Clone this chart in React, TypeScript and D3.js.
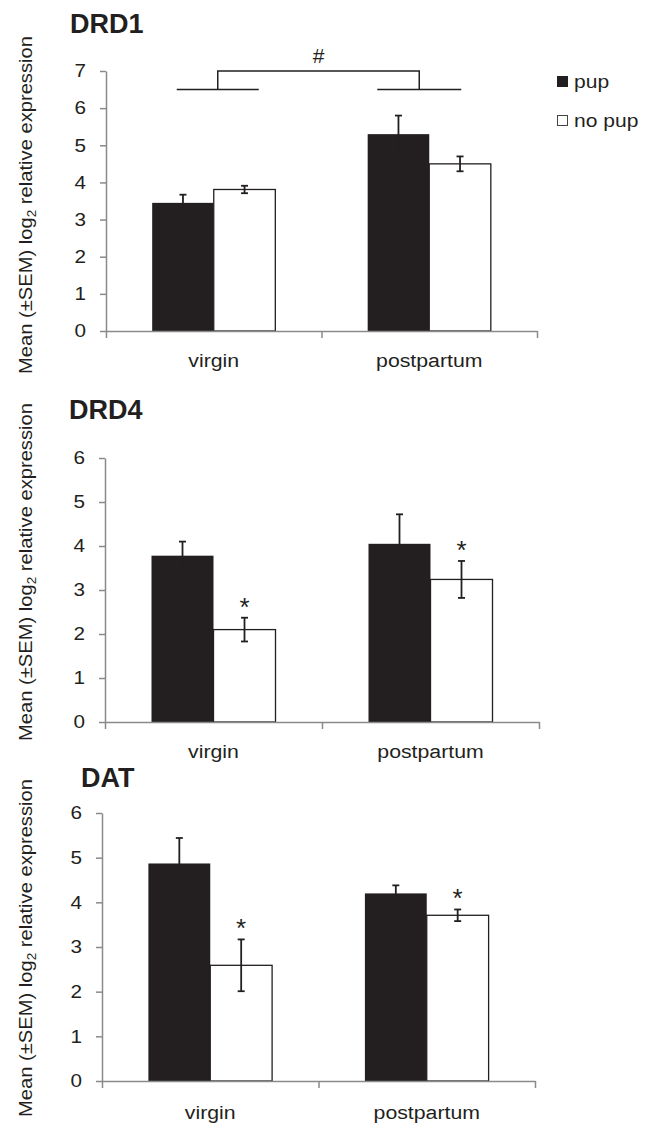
import React, { useRef, useEffect } from "react";
import * as d3 from "d3";

const categories = ["virgin", "postpartum"];
const groups = ["pup", "no pup"];

const drd1Pup = [3.45, 5.3];
const drd1PupSem = [0.22, 0.5];
const drd1NoPup = [3.81, 4.5];
const drd1NoPupSem = [0.1, 0.2];

const drd4Pup = [3.78, 4.05];
const drd4PupSem = [0.32, 0.67];
const drd4NoPup = [2.1, 3.24];
const drd4NoPupSem = [0.27, 0.42];

const datPup = [4.87, 4.2];
const datPupSem = [0.57, 0.18];
const datNoPup = [2.59, 3.71];
const datNoPupSem = [0.58, 0.13];

const drd1Ticks = [0, 1, 2, 3, 4, 5, 6, 7];
const sixTicks = [0, 1, 2, 3, 4, 5, 6];

// significance: bracket levels for DRD1 (# virgin vs postpartum), stars over "no pup"
const drd1Bracket = [6.5, 7];
const drd4Stars = [true, true];
const datStars = [true, true];

const font = "Liberation Sans, Arial, sans-serif";
const ink = "#231f20";
const axisGrey = "#8a8a8a";

const panels = [
  {
    title: "DRD1", pup: drd1Pup, pupSem: drd1PupSem, noPup: drd1NoPup, noPupSem: drd1NoPupSem,
    ticks: drd1Ticks, stars: [false, false], bracket: drd1Bracket,
    titleX: 70, titleY: 33, x0: 106, x1: 537, yTop: 71, yBottom: 331, labelY: 367, labelCy: 205,
  },
  {
    title: "DRD4", pup: drd4Pup, pupSem: drd4PupSem, noPup: drd4NoPup, noPupSem: drd4NoPupSem,
    ticks: sixTicks, stars: drd4Stars, bracket: null,
    titleX: 69, titleY: 419, x0: 105, x1: 539, yTop: 458, yBottom: 722, labelY: 758, labelCy: 572,
  },
  {
    title: "DAT", pup: datPup, pupSem: datPupSem, noPup: datNoPup, noPupSem: datNoPupSem,
    ticks: sixTicks, stars: datStars, bracket: null,
    titleX: 81, titleY: 787, x0: 102, x1: 535, yTop: 813, yBottom: 1081, labelY: 1119, labelCy: 948,
  },
];

const App = () => {
  const chartRef = useRef<SVGSVGElement | null>(null);

  useEffect(() => {
    if (!chartRef.current) return;
    const svg = d3.select(chartRef.current);
    svg.selectAll("*").remove();

    svg.append("rect").attr("width", 652).attr("height", 1126).attr("fill", "#fff");

    panels.forEach(p => {
      const g = svg.append("g");
      const x = d3.scaleBand().domain(categories).range([p.x0, p.x1]);
      const xg = d3.scaleBand().domain(groups).range([0, x.bandwidth()]).paddingOuter(0.75);
      const y = d3.scaleLinear().domain([0, d3.max(p.ticks) as number]).range([p.yBottom, p.yTop]);

      g.append("text")
        .attr("x", p.titleX).attr("y", p.titleY)
        .attr("font-family", font).attr("font-weight", 700).attr("font-size", 27)
        .attr("fill", ink).text(p.title);

      const yl = g.append("text")
        .attr("transform", `translate(32,${p.labelCy}) rotate(-90) scale(1.12,1)`)
        .attr("text-anchor", "middle")
        .attr("font-family", font).attr("font-size", 18).attr("fill", ink);
      yl.append("tspan").text("Mean (±SEM) log");
      yl.append("tspan").attr("font-size", 12).attr("dy", 4).text("2");
      yl.append("tspan").attr("dy", -4).text(" relative expression");

      const rows = categories.flatMap((c, i) => [
        { c, grp: "pup", v: p.pup[i], e: p.pupSem[i], star: false },
        { c, grp: "no pup", v: p.noPup[i], e: p.noPupSem[i], star: p.stars[i] },
      ]);

      g.selectAll("rect.bar")
        .data(rows)
        .join("rect")
        .attr("class", "bar")
        .attr("x", d => (x(d.c) as number) + (xg(d.grp) as number))
        .attr("width", xg.bandwidth())
        .attr("y", d => y(d.v))
        .attr("height", d => y(0) - y(d.v))
        .attr("fill", d => (d.grp === "pup" ? ink : "#fff"))
        .attr("stroke", d => (d.grp === "pup" ? "none" : ink))
        .attr("stroke-width", 1.3);

      const cx = (d: any) => (x(d.c) as number) + (xg(d.grp) as number) + xg.bandwidth() / 2;
      const err = g.selectAll("g.err").data(rows).join("g").attr("class", "err")
        .attr("stroke", ink).attr("stroke-width", 1.8);
      err.append("line").attr("x1", cx).attr("x2", cx)
        .attr("y1", d => y(d.v - d.e)).attr("y2", d => y(d.v + d.e));
      err.append("line").attr("x1", d => cx(d) - 3.5).attr("x2", d => cx(d) + 3.5)
        .attr("y1", d => y(d.v + d.e)).attr("y2", d => y(d.v + d.e));
      err.append("line").attr("x1", d => cx(d) - 3.5).attr("x2", d => cx(d) + 3.5)
        .attr("y1", d => y(d.v - d.e)).attr("y2", d => y(d.v - d.e));

      g.selectAll("text.star")
        .data(rows.filter(d => d.star))
        .join("text")
        .attr("class", "star")
        .attr("x", cx)
        .attr("y", d => y(d.v + d.e) - 2)
        .attr("text-anchor", "middle")
        .attr("font-family", font).attr("font-size", 26).attr("fill", ink)
        .text("*");

      if (p.bracket) {
        const [lo, hi] = p.bracket;
        const cL = (x("virgin") as number) + x.bandwidth() / 2 + 4;
        const cR = (x("postpartum") as number) + x.bandwidth() / 2 - 10;
        const path = d3.path();
        path.moveTo(cL - 41, y(lo)); path.lineTo(cL + 41, y(lo));
        path.moveTo(cL, y(lo)); path.lineTo(cL, y(hi)); path.lineTo(cR, y(hi)); path.lineTo(cR, y(lo));
        path.moveTo(cR - 42, y(lo)); path.lineTo(cR + 42, y(lo));
        g.append("path").attr("d", path.toString()).attr("fill", "none")
          .attr("stroke", ink).attr("stroke-width", 1.5);
        g.append("text")
          .attr("x", (cL + cR) / 2).attr("y", y(hi) - 8)
          .attr("text-anchor", "middle")
          .attr("font-family", font).attr("font-size", 21).attr("fill", ink)
          .text("#");
      }

      // y axis
      const ya = g.append("g")
        .attr("transform", `translate(${p.x0},0)`)
        .call(d3.axisLeft(y).tickValues(p.ticks).tickSize(6).tickSizeOuter(0).tickFormat(d3.format("d")));
      ya.attr("font-size", null).attr("font-family", null);
      ya.select(".domain").attr("stroke", axisGrey).attr("stroke-width", 1.5);
      ya.selectAll(".tick line").attr("stroke", axisGrey).attr("stroke-width", 1.5);
      ya.selectAll(".tick text")
        .attr("font-family", font).attr("font-size", 18).attr("fill", ink)
        .attr("x", -20 / 1.15).attr("transform", "scale(1.15,1)");

      // x axis with ticks at category boundaries
      const boundary = d3.scaleLinear().domain([0, categories.length]).range([p.x0, p.x1]);
      const xa = g.append("g")
        .attr("transform", `translate(0,${p.yBottom})`)
        .call(d3.axisBottom(boundary).tickValues(d3.range(categories.length + 1))
          .tickSize(7).tickSizeOuter(0).tickFormat(() => ""));
      xa.select(".domain").attr("stroke", axisGrey).attr("stroke-width", 1.5);
      xa.selectAll(".tick line").attr("stroke", axisGrey).attr("stroke-width", 1.5);

      const xl = g.append("g")
        .attr("transform", `translate(0,${p.labelY})`)
        .call(d3.axisBottom(x).tickSize(0).tickPadding(0));
      xl.attr("font-size", null).attr("font-family", null);
      xl.select(".domain").remove();
      xl.selectAll(".tick text")
        .attr("y", 0).attr("dy", 0)
        .attr("font-family", font).attr("font-size", 19).attr("fill", ink)
        .attr("transform", "scale(1.12,1)");
    });

    // legend
    const legend = svg.append("g");
    const legendTop = [76, 115];
    groups.forEach((grp, i) => {
      legend.append("rect")
        .attr("x", 557.5).attr("y", legendTop[i] + 0.5).attr("width", 10).attr("height", 10)
        .attr("fill", i === 0 ? ink : "#fff")
        .attr("stroke", i === 0 ? ink : "#444").attr("stroke-width", 1);
      legend.append("text")
        .attr("transform", `translate(574,${legendTop[i] + 12}) scale(1.17,1)`)
        .attr("font-family", font).attr("font-size", 18).attr("fill", ink)
        .text(grp);
    });
  }, []);

  return (
    <svg
      ref={chartRef}
      width={652}
      height={1126}
      style={{ position: "absolute", left: 0, top: 0, display: "block" }}
    ></svg>
  );
};

export default App;
